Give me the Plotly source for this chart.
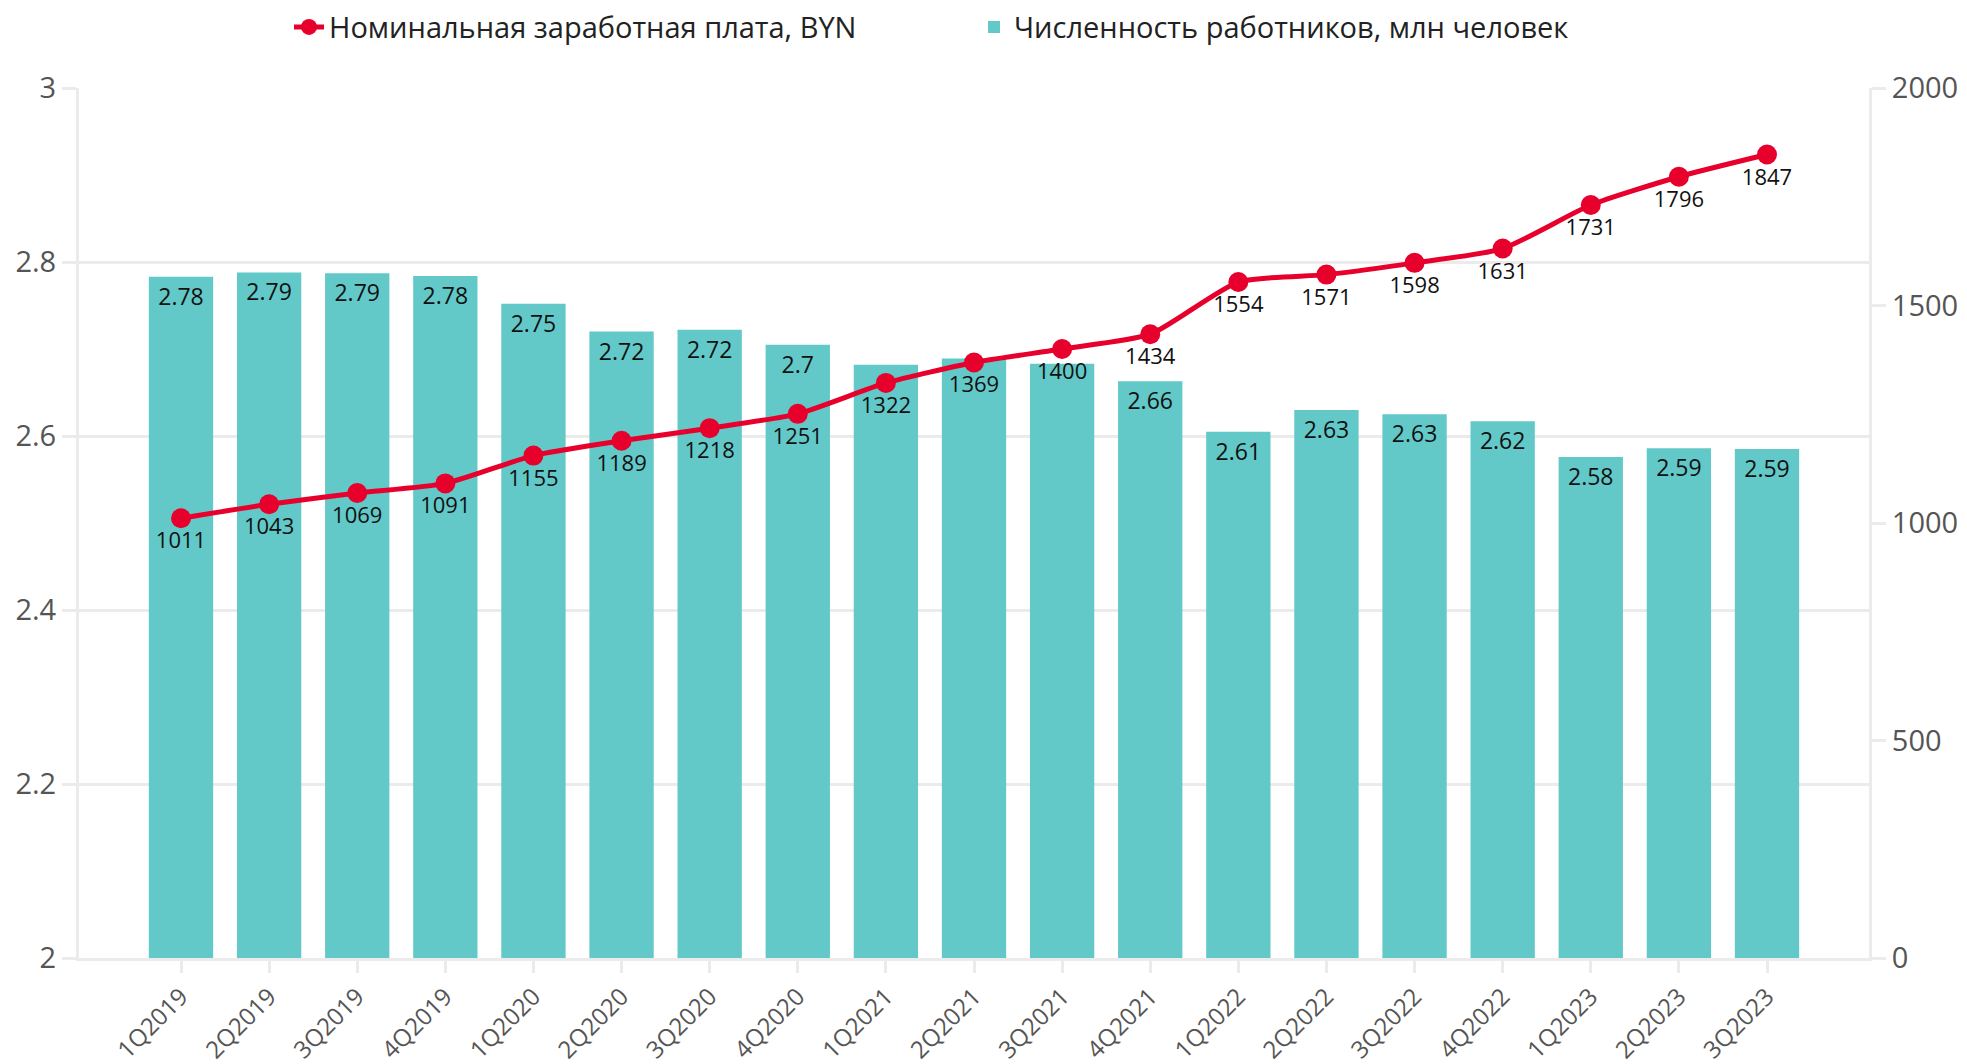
import plotly.graph_objects as go

categories = ["1Q2019", "2Q2019", "3Q2019", "4Q2019", "1Q2020", "2Q2020", "3Q2020", "4Q2020",
              "1Q2021", "2Q2021", "3Q2021", "4Q2021", "1Q2022", "2Q2022", "3Q2022", "4Q2022",
              "1Q2023", "2Q2023", "3Q2023"]
workers = [2.783, 2.788, 2.787, 2.784, 2.752, 2.720, 2.722, 2.705,
           2.682, 2.689, 2.683, 2.663, 2.605, 2.630, 2.625, 2.617,
           2.576, 2.586, 2.585]
# bar labels hidden where they collide with the wage labels in the reference
workers_labels = ["2.78", "2.79", "2.79", "2.78", "2.75", "2.72", "2.72", "2.7",
                  "", "", "", "2.66", "2.61", "2.63", "2.63", "2.62",
                  "2.58", "2.59", "2.59"]
wages = [1011, 1043, 1069, 1091, 1155, 1189, 1218, 1251, 1322, 1369, 1400, 1434,
         1554, 1571, 1598, 1631, 1731, 1796, 1847]

FONT = "Open Sans"
RED = "#E8002D"
TEAL = "#62C9C8"
GRID = "#EBEBEB"

fig = go.Figure()
fig.add_trace(go.Scatter(
    x=categories, y=wages, name="Номинальная заработная плата, BYN",
    mode="lines+markers+text", yaxis="y2",
    line=dict(color=RED, width=5, shape="spline", smoothing=0.6),
    marker=dict(color=RED, size=20),
    text=[str(v) for v in wages], textposition="bottom center",
    textfont=dict(family=FONT, size=22, color="#111111"),
    cliponaxis=False,
))
fig.add_trace(go.Bar(
    x=categories, y=workers, name="Численность работников, млн человек",
    marker=dict(color=TEAL, line=dict(width=0)),
    text=workers_labels, textposition="inside", insidetextanchor="end",
    textfont=dict(family=FONT, size=23, color="#111111"),
    textangle=0,
))

fig.update_layout(
    width=1967, height=1064,
    margin=dict(l=79, r=98, t=88, b=106, autoexpand=False),
    paper_bgcolor="white", plot_bgcolor="white",
    font=dict(family=FONT, color="#555555"),
    bargap=0.27,
    showlegend=True,
    legend=dict(orientation="h", x=0.5, xanchor="center", y=1.07, yanchor="middle",
                font=dict(family=FONT, size=29, color="#222222"),
                traceorder="normal", itemwidth=30, entrywidth=640),
    xaxis=dict(
        type="category", tickangle=-45, showgrid=False, automargin=False,
        showline=True, linecolor=GRID, linewidth=3,
        ticks="outside", ticklen=12, tickwidth=3, tickcolor=GRID,
        tickfont=dict(family=FONT, size=24, color="#555555"),
    ),
    yaxis=dict(
        range=[2, 3], tickvals=[2, 2.2, 2.4, 2.6, 2.8, 3], ticktext=["2", "2.2", "2.4", "2.6", "2.8", "3"],
        showgrid=True, gridcolor=GRID, gridwidth=3, automargin=False,
        showline=True, linecolor=GRID, linewidth=3,
        ticks="outside", ticklen=14, tickwidth=3, tickcolor=GRID,
        tickfont=dict(family=FONT, size=29, color="#555555"),
        zeroline=False,
    ),
    yaxis2=dict(
        range=[0, 2000], tickvals=[0, 500, 1000, 1500, 2000], automargin=False,
        overlaying="y", side="right", showgrid=False,
        showline=True, linecolor=GRID, linewidth=3,
        ticks="outside", ticklen=14, tickwidth=3, tickcolor=GRID,
        tickfont=dict(family=FONT, size=29, color="#555555"),
        zeroline=False,
    ),
)

fig.write_html("out.html", config={"displayModeBar": False},
               post_script="document.body.style.margin='0';document.body.style.overflow='hidden';")
